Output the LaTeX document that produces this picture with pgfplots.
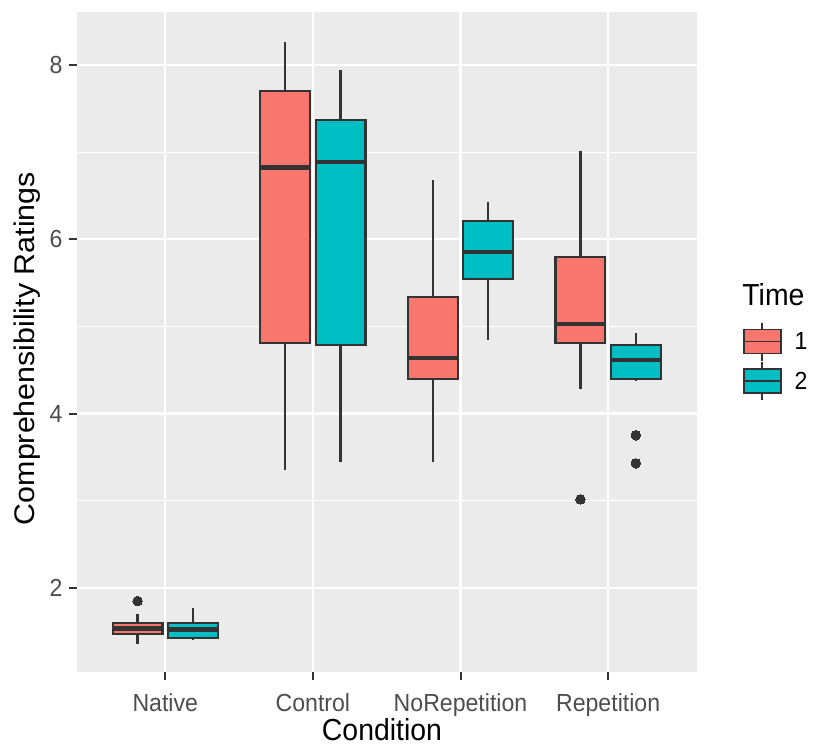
\documentclass[border=0pt]{standalone}
\usepackage{graphicx}
\usepackage{pgfplots}
\pgfplotsset{compat=1.18}
\usepgfplotslibrary{statistics}
\usepackage{fontspec}
\setmainfont{Liberation Sans}
\definecolor{gR}{HTML}{F8766D}
\definecolor{gT}{HTML}{00BFC4}
\definecolor{grey20}{HTML}{333333}
\definecolor{grey30}{HTML}{4D4D4D}
\definecolor{panel}{HTML}{EBEBEB}
\newcommand{\tickfont}{\fontsize{23.1bp}{26bp}\selectfont}
\newcommand{\titlefont}{\fontsize{28.4bp}{32bp}\selectfont}
\newcommand{\vs}[1]{\scalebox{1}[1.07]{#1}}
\pgfplotsset{
  bx/.style={forget plot, draw=grey20, line width=2.2bp, solid, mark=*, mark size=4.8bp,
    mark options={fill=grey20, draw=grey20, line width=0bp},
    boxplot/every median/.style={line width=4.4bp}},
}
\begin{document}
\begin{tikzpicture}
\begin{axis}[
  scale only axis,
  width=620bp, height=660.6bp,
  xmin=0.4, xmax=4.6, ymin=1.029, ymax=8.613,
  clip=false,
  axis background/.style={fill=panel},
  axis line style={draw=none},
  xtick={1,2,3,4},
  xticklabels={\vs{Native},\vs{Control},\vs{NoRepetition},\vs{Repetition}},
  ytick={2,4,6,8},
  yticklabel={\vs{\pgfmathprintnumber{\tick}}},
  minor ytick={3,5,7},
  minor tick length=0pt,
  major tick length=8bp,
  tick align=outside,
  xtick pos=left, ytick pos=left,
  tick style={draw=grey20, line width=2bp},
  grid=both,
  major grid style={draw=white, line width=2.2bp},
  minor grid style={draw=white, line width=1.1bp},
  /pgf/number format/assume math mode=true,
  ticklabel style={font=\tickfont, text=grey30},
  xticklabel style={inner sep=0pt, anchor=north, yshift=-13bp},
  yticklabel style={inner sep=0pt, anchor=east, xshift=-6bp},
  xlabel={\vs{Condition}},
  ylabel={\scalebox{1.07}[1]{Comprehensibility Ratings}},
  xlabel style={font=\titlefont, at={(axis description cs:0.4924,-0.1035)}, anchor=base, inner sep=0pt},
  ylabel style={font=\titlefont, at={(axis description cs:-0.068,0.49)}, anchor=base, inner sep=0pt, rotate=0},
  legend style={draw=none, fill=none, at={(axis description cs:1.0742,0.4705)}, anchor=west,
    font=\tickfont, inner sep=0pt, row sep=0bp,
    nodes={inner sep=1bp},
    /tikz/every odd column/.append style={column sep=12bp}},
  legend cell align=left,
  boxplot/draw direction=y,
  boxplot/box extend=0.3375,
  boxplot/whisker extend=0,
]
% Native
\addplot[bx, fill=gR, boxplot prepared={draw position=0.8125,
  lower whisker=1.353, lower quartile=1.468, median=1.534, upper quartile=1.598, upper whisker=1.700}]
  coordinates {(0,1.847)};
\addplot[bx, fill=gT, boxplot prepared={draw position=1.1875,
  lower whisker=1.400, lower quartile=1.419, median=1.522, upper quartile=1.598, upper whisker=1.763}]
  coordinates {};
% Control
\addplot[bx, fill=gR, boxplot prepared={draw position=1.8125,
  lower whisker=3.35, lower quartile=4.806, median=6.822, upper quartile=7.706, upper whisker=8.262}]
  coordinates {};
\addplot[bx, fill=gT, boxplot prepared={draw position=2.1875,
  lower whisker=3.44, lower quartile=4.783, median=6.884, upper quartile=7.370, upper whisker=7.944}]
  coordinates {};
% NoRepetition
\addplot[bx, fill=gR, boxplot prepared={draw position=2.8125,
  lower whisker=3.44, lower quartile=4.393, median=4.634, upper quartile=5.341, upper whisker=6.681}]
  coordinates {};
\addplot[bx, fill=gT, boxplot prepared={draw position=3.1875,
  lower whisker=4.844, lower quartile=5.544, median=5.854, upper quartile=6.214, upper whisker=6.425}]
  coordinates {};
% Repetition
\addplot[bx, fill=gR, boxplot prepared={draw position=3.8125,
  lower whisker=4.278, lower quartile=4.813, median=5.028, upper quartile=5.800, upper whisker=7.017}]
  coordinates {(0,3.015)};
\addplot[bx, fill=gT, boxplot prepared={draw position=4.1875,
  lower whisker=4.377, lower quartile=4.396, median=4.614, upper quartile=4.786, upper whisker=4.928}]
  coordinates {(0,3.75) (0,3.428)};
% legend
\addlegendimage{legend image code/.code={
  \draw[grey20, line width=1.8bp] (18.5bp,-19bp) -- (18.5bp,19bp);
  \draw[grey20, line width=1.8bp, fill=gR] (0bp,-12bp) rectangle (37bp,12bp);
  \draw[grey20, line width=1.8bp] (0bp,0bp) -- (37bp,0bp);}}
\addlegendentry{\vs{1}}
\addlegendimage{legend image code/.code={
  \draw[grey20, line width=1.8bp] (18.5bp,-19bp) -- (18.5bp,19bp);
  \draw[grey20, line width=1.8bp, fill=gT] (0bp,-12bp) rectangle (37bp,12bp);
  \draw[grey20, line width=1.8bp] (0bp,0bp) -- (37bp,0bp);}}
\addlegendentry{\vs{2}}
\node[font=\titlefont, anchor=base west, inner sep=0pt] at (axis description cs:1.0734,0.5547) {\vs{Time}};
\end{axis}
\pgfresetboundingbox
\path ([xshift=-76.7bp,yshift=-76.7bp]current axis.south west) rectangle ++(814bp,749bp);
\end{tikzpicture}
\end{document}
